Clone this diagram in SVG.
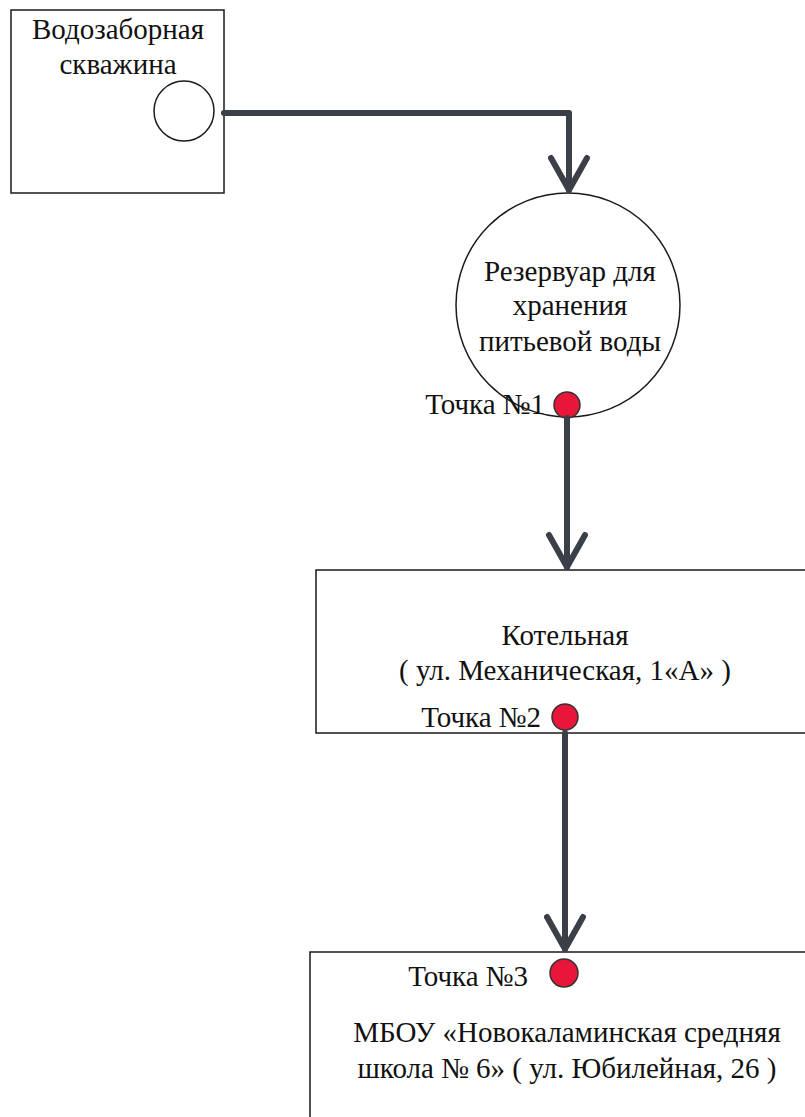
<svg xmlns="http://www.w3.org/2000/svg" width="805" height="1117" viewBox="0 0 805 1117">
<defs>
<style>
.box{fill:#fff;stroke:#1a1a1a;stroke-width:1.5}
.t{font-family:"Liberation Serif","Times New Roman",serif;font-size:29px;fill:#111}
.m{text-anchor:middle}
.e{text-anchor:end}
.dot{fill:#e8173a;stroke:#333;stroke-width:1.5}
.pipe{fill:none;stroke:#3b4048;stroke-width:6;stroke-linecap:round;stroke-linejoin:round}
</style>
<marker id="chev" viewBox="-40 -24 44 48" markerWidth="44" markerHeight="48" markerUnits="userSpaceOnUse" refX="0" refY="0" orient="auto">
<path d="M-32,-18 L0,0 L-32,18" fill="none" stroke="#3b4048" stroke-width="6" stroke-linecap="round" stroke-linejoin="round"/>
</marker>
</defs>
<rect width="805" height="1117" fill="#fff"/>
<g id="well">
<rect class="box" x="11" y="10" width="213" height="183"/>
<text class="t m" x="118" y="39">Водозаборная</text>
<text class="t m" x="118" y="74">скважина</text>
<circle cx="184" cy="111" r="30" fill="#fff" stroke="#1a1a1a" stroke-width="1.5"/>
</g>
<g id="reservoir">
<circle cx="568" cy="305" r="112" fill="#fff" stroke="#1a1a1a" stroke-width="1.5"/>
<text class="t m" x="570" y="281">Резервуар для</text>
<text class="t m" x="570" y="315">хранения</text>
<text class="t m" x="570" y="351">питьевой воды</text>
</g>
<g id="point1">
<text class="t e" x="545" y="414">Точка №1</text>
<circle class="dot" cx="567" cy="405" r="13"/>
</g>
<g id="boiler">
<rect class="box" x="316" y="570" width="495" height="163"/>
<text class="t m" x="565" y="645">Котельная</text>
<text class="t m" x="565" y="680">( ул. Механическая, 1«А» )</text>
</g>
<g id="point2">
<text class="t e" x="541" y="727">Точка №2</text>
<circle class="dot" cx="565" cy="717" r="13"/>
</g>
<g id="school">
<rect class="box" x="310" y="952" width="500" height="170"/>
<text class="t m" x="567" y="1042">МБОУ «Новокаламинская средняя</text>
<text class="t m" x="567" y="1078">школа № 6» ( ул. Юбилейная, 26 )</text>
</g>
<g id="point3">
<text class="t e" x="528" y="986">Точка №3</text>
<circle class="dot" cx="564" cy="973" r="14"/>
</g>
<g id="connectors">
<path class="pipe" d="M224,113 L569,113 L569,190" marker-end="url(#chev)"/>
<path class="pipe" d="M567,418 L567,567" marker-end="url(#chev)"/>
<path class="pipe" d="M565,733 L565,949" marker-end="url(#chev)"/>
</g>
</svg>
